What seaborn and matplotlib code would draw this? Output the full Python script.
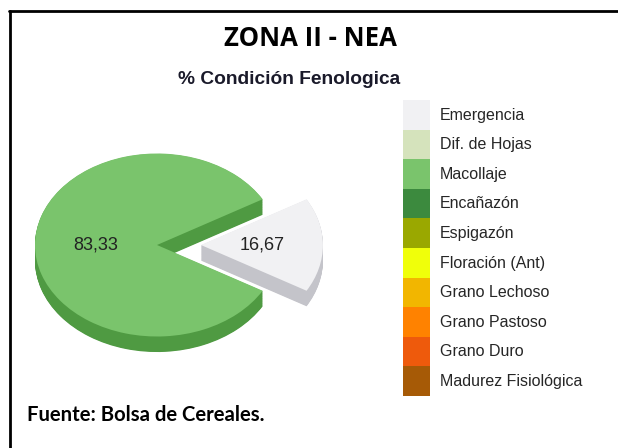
import numpy as np
import matplotlib
matplotlib.use("Agg")
import matplotlib.pyplot as plt
import seaborn as sns
from matplotlib.patches import Patch
from matplotlib.lines import Line2D

# phenological stages and share (%) for zona II - NEA
etapas = ["Emergencia", "Dif. de Hojas", "Macollaje", "Encañazón", "Espigazón",
          "Floración (Ant)", "Grano Lechoso", "Grano Pastoso", "Grano Duro",
          "Madurez Fisiológica"]
porcentajes = [16.67, 0, 83.33, 0, 0, 0, 0, 0, 0, 0]
colores = ["#F1F1F3", "#D5E3BC", "#7AC46C", "#3C8A3E", "#9AA800",
           "#F0FF0A", "#F2B600", "#FF8200", "#EE5A0C", "#A65A06"]
colores_lado = ["#C4C4CA", "#B0C090", "#4F9A42", "#2A6A2C", "#707A00",
                "#C0CC00", "#C08E00", "#C86400", "#B84408", "#7A4204"]

sns.set_style("white")
plt.rcParams["font.family"] = ["Liberation Sans", "DejaVu Sans"]

fig = plt.figure(figsize=(6.18, 4.48), dpi=100)
W, H = 618, 448

# only non-zero slices go on the pie
idx = [i for i, v in enumerate(porcentajes) if v > 0]
vals = [porcentajes[i] for i in idx]
top_cols = [colores[i] for i in idx]
side_cols = [colores_lado[i] for i in idx]
explode = [0.36 if etapas[i] == "Emergencia" else 0 for i in idx]
start = -vals[0] / sum(vals) * 360 / 2

# pie axes in pixel terms: centre (157, 245), rx 122 px, ry 91.5 px
x0, x1, y0, y1 = 20, 380, 130, 385
ax = fig.add_axes([x0 / W, 1 - y1 / H, (x1 - x0) / W, (y1 - y0) / H])
cx, cy, rx, ry = 157, 245, 122, 91.5

depth = 0.17
for d in np.linspace(depth, 0.005, 25):
    ax.pie(vals, colors=side_cols, explode=explode, startangle=start,
           center=(0, -d), wedgeprops=dict(linewidth=0))

def fmt(p):
    return f"{p:.2f}".replace(".", ",")

ax.pie(vals, colors=top_cols, explode=explode, startangle=start,
       autopct=fmt, pctdistance=0.5, wedgeprops=dict(linewidth=0),
       textprops=dict(fontsize=13, color="#222222"))
ax.set_aspect("auto")
ax.set_xlim(-(cx - x0) / rx, (x1 - cx) / rx)
ax.set_ylim(-(y1 - cy) / ry, (cy - y0) / ry)
ax.axis("off")

# legend: stacked colour blocks, rows ~29.6 px tall
handles = [Patch(facecolor=c, edgecolor="none") for c in colores]
fs = 11.5
fpx = fs * 100 / 72
hh = (29.6 / fpx - 0.245) / 0.65
fig.legend(handles, etapas, loc="upper left",
           bbox_to_anchor=(403 / W, 1 - 100 / H), frameon=False,
           fontsize=fs, labelspacing=0, borderpad=0, borderaxespad=0,
           handleheight=hh, handlelength=27 / fpx,
           handletextpad=10 / fpx)

# titles
fig.text(310 / W, 1 - 39 / H, "ZONA II - NEA", ha="center", va="center",
         fontsize=18.5, fontweight="bold", family="Open Sans", color="#000000")
fig.text(289 / W, 1 - 79 / H, "% Condición Fenologica", ha="center", va="center",
         fontsize=13.8, fontweight="bold", color="#1a1a2a")
fig.text(27 / W, 1 - 415 / H, "Fuente: Bolsa de Cereales.", ha="left", va="center",
         fontsize=14.6, fontweight="bold", family="Lato", color="#000000")

# frame (top and left edges)
fig.add_artist(Line2D([9 / W, 1], [1 - 11 / H, 1 - 11 / H], color="black", lw=2,
                      transform=fig.transFigure))
fig.add_artist(Line2D([10 / W, 10 / W], [1 - 11 / H, 0], color="black", lw=2,
                      transform=fig.transFigure))

fig.savefig("out.png", dpi=100)
